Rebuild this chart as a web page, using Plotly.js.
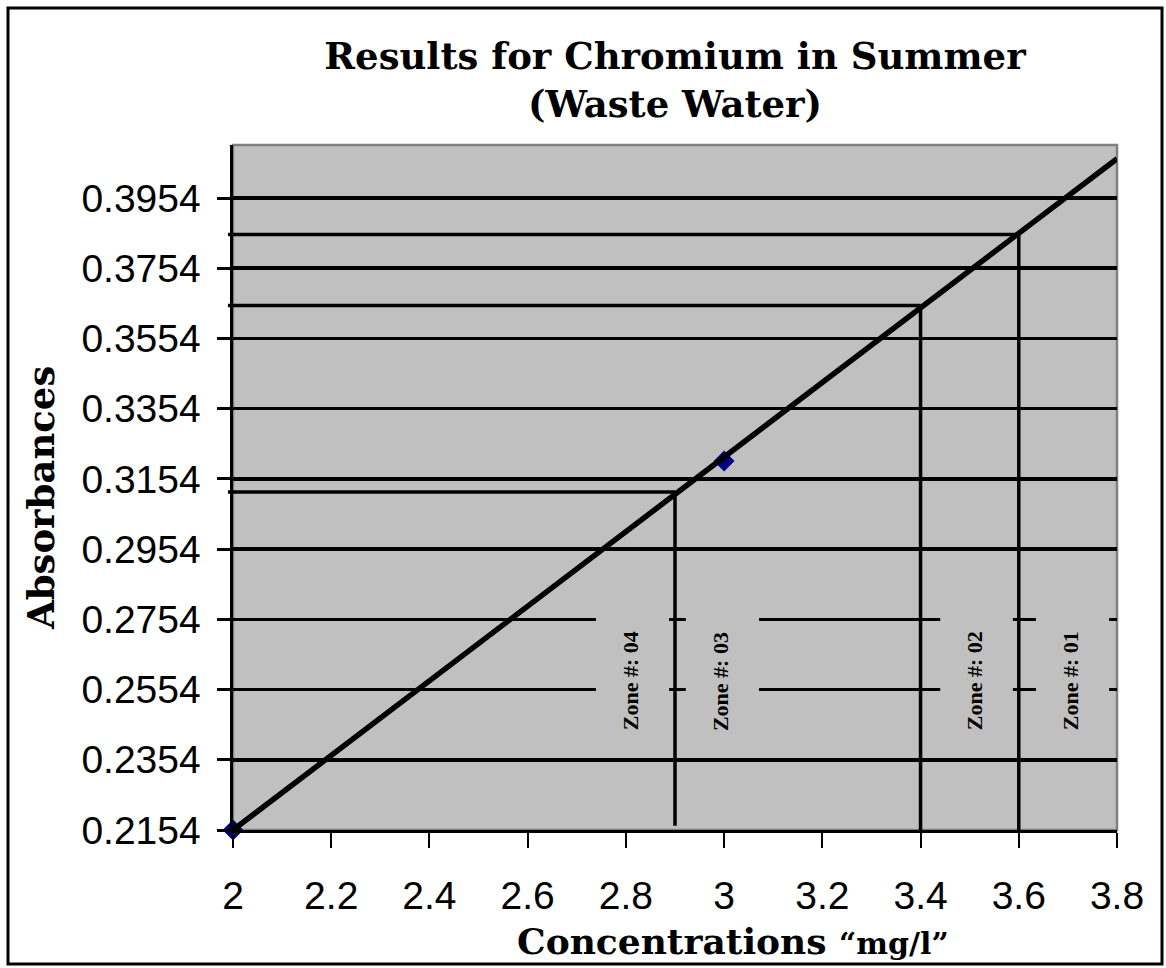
<!DOCTYPE html>
<html>
<head>
<meta charset="utf-8">
<script src="https://cdn.plot.ly/plotly-3.0.1.min.js"></script>
<style>html,body{margin:0;padding:0;background:#fff;}#chart{width:1166px;height:968px;}</style>
</head>
<body>
<div id="chart"></div>
<script>
// ---- data ----
const sampleConc = [2, 3];
const sampleAbs = [0.2154, 0.3205];
const trendConc = [2, 3.8];
const trendAbs = [0.2154, 0.4066];
const dropConc = [2.9, 3.4, 3.6];
const dropAbs = [0.3117, 0.3648, 0.3850];
const dropBottom = [0.2166, 0.2154, 0.2154];
const zoneLabels = ["Zone #: 04", "Zone #: 03", "Zone #: 02", "Zone #: 01"];
const zoneLeft = [2.739, 2.922, 3.440, 3.635];
const zoneRight = [2.888, 3.071, 3.588, 3.784];
const zoneY = 0.2578;
const xTickVals = [2, 2.2, 2.4, 2.6, 2.8, 3, 3.2, 3.4, 3.6, 3.8];
const xTickText = ["2", "2.2", "2.4", "2.6", "2.8", "3", "3.2", "3.4", "3.6", "3.8"];
const yTickVals = [0.2154, 0.2354, 0.2554, 0.2754, 0.2954, 0.3154, 0.3354, 0.3554, 0.3754, 0.3954];
const yTickText = ["0.2154", "0.2354", "0.2554", "0.2754", "0.2954", "0.3154", "0.3354", "0.3554", "0.3754", "0.3954"];
const xRange = [2, 3.8];
const yRange = [0.2154, 0.4105];
const chartTitle = "Results for Chromium in Summer<br>(Waste Water)";
const xTitle = "Concentrations <span style='font-size:30px'>“mg/l”</span>";
const yTitle = "Absorbances";

// ---- build ----
const serif = "DejaVu Serif, Liberation Serif, serif";
const sans = "Liberation Sans, Arial, sans-serif";
const toPaperX = v => (v - xRange[0]) / (xRange[1] - xRange[0]);

const traces = [
  {
    x: sampleConc, y: sampleAbs, type: "scatter", mode: "markers",
    marker: {symbol: "diamond", size: 16, color: "#000080", line: {width: 0}},
    cliponaxis: false, hoverinfo: "skip", showlegend: false
  },
  {
    x: trendConc, y: trendAbs, type: "scatter", mode: "lines",
    line: {color: "#000000", width: 5.5}, hoverinfo: "skip", showlegend: false
  }
];

const shapes = [];
// plot area border (grey top/right)
shapes.push({type: "rect", xref: "x domain", yref: "y domain", x0: 0, x1: 1, y0: 0, y1: 1,
  line: {color: "#808080", width: 2.5}, layer: "below"});
// zone boxes hiding gridlines
for (let i = 0; i < zoneLabels.length; i++) {
  shapes.push({type: "rect", xref: "x", yref: "y", x0: zoneLeft[i], x1: zoneRight[i],
    y0: 0.2420, y1: 0.2880, fillcolor: "#C0C0C0", line: {width: 0}, layer: "above"});
}
// drop lines
for (let i = 0; i < dropConc.length; i++) {
  shapes.push({type: "line", xref: "paper", yref: "y", x0: -0.0057, x1: toPaperX(dropConc[i]),
    y0: dropAbs[i], y1: dropAbs[i], line: {color: "#000", width: 3.5}, layer: "above"});
  shapes.push({type: "line", xref: "x", yref: "y", x0: dropConc[i], x1: dropConc[i],
    y0: dropAbs[i], y1: dropBottom[i], line: {color: "#000", width: 3.5}, layer: "above"});
}
// outer frame
shapes.push({type: "rect", xref: "paper", yref: "paper",
  x0: (8 - 233) / 884, x1: (1162 - 233) / 884, y0: (830 - 964) / 685, y1: (830 - 8) / 685,
  line: {color: "#000", width: 3}, layer: "above"});

const annotations = zoneLabels.map((t, i) => ({
  text: t, x: (zoneLeft[i] + zoneRight[i]) / 2 - 0.005, y: zoneY, xref: "x", yref: "y",
  textangle: -90, showarrow: false,
  font: {family: "Liberation Serif, Times New Roman, serif", size: 22, color: "#000", weight: "bold"}
}));
// axis titles (placed as in the reference, offset from centre)
annotations.push({
  text: xTitle, xref: "paper", yref: "paper", x: (733 - 233) / 884, y: (830 - 941) / 685,
  xanchor: "center", yanchor: "middle", showarrow: false,
  font: {family: serif, size: 36, color: "#000", weight: "bold"}
});
annotations.push({
  text: yTitle, xref: "paper", yref: "paper", x: (41 - 233) / 884, y: (830 - 498) / 685,
  xanchor: "center", yanchor: "middle", textangle: -90, showarrow: false,
  font: {family: serif, size: 37, color: "#000", weight: "bold"}
});

const layout = {
  width: 1166, height: 968,
  margin: {l: 233, r: 49, t: 145, b: 138},
  paper_bgcolor: "#ffffff", plot_bgcolor: "#C0C0C0",
  title: {
    text: chartTitle,
    font: {family: serif, size: 37, color: "#000", weight: "bold"},
    x: 0.5, xref: "paper", xanchor: "center", y: 1 - 69 / 968, yanchor: "top"
  },
  xaxis: {
    range: xRange, tickmode: "array", tickvals: xTickVals, ticktext: xTickText,
    showgrid: false, zeroline: false, showline: true, linecolor: "#000", linewidth: 3,
    ticks: "outside", ticklen: 15, tickwidth: 2, tickcolor: "#000",
    ticklabelstandoff: 14,
    tickfont: {family: sans, size: 39, color: "#000"}
  },
  yaxis: {
    range: yRange, tickmode: "array", tickvals: yTickVals, ticktext: yTickText,
    showgrid: true, gridcolor: "#000", gridwidth: 3.5, zeroline: false,
    showline: true, linecolor: "#000", linewidth: 3.5,
    ticks: "outside", ticklen: 13, tickwidth: 3, tickcolor: "#000",
    ticklabelstandoff: 8,
    tickfont: {family: sans, size: 39, color: "#000"}
  },
  shapes: shapes,
  annotations: annotations,
  showlegend: false
};

Plotly.newPlot("chart", traces, layout, {displayModeBar: false, staticPlot: true});
</script>
</body>
</html>
